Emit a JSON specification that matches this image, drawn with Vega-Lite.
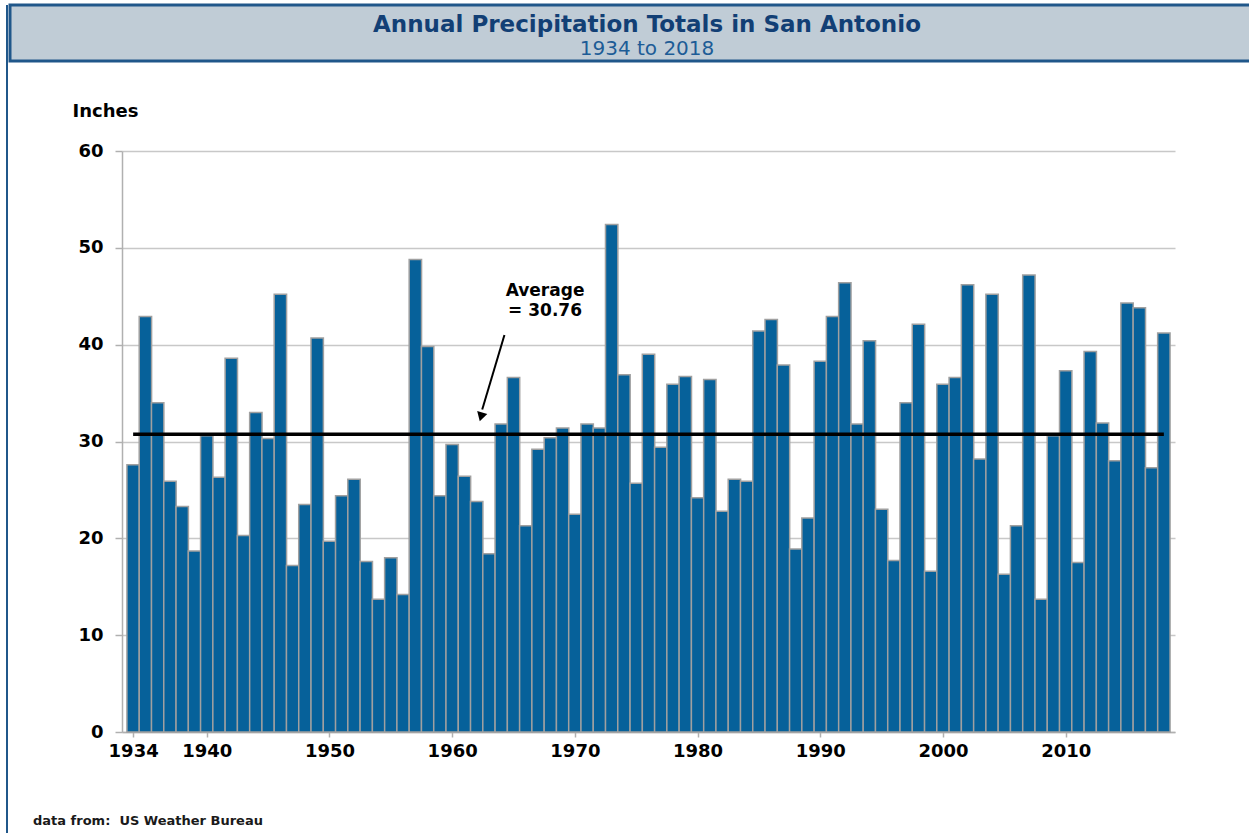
{
  "$schema": "https://vega.github.io/schema/vega-lite/v6.json",
  "background": "white",
  "padding": {"left": 6, "top": 3, "right": 0, "bottom": 0},
  "autosize": {"type": "pad"},
  "spacing": 0,
  "config": {"view": {"stroke": null}, "font": "DejaVu Sans"},
  "hconcat": [
    {
      "width": 2,
      "height": 830,
      "data": {"values": [{}]},
      "mark": {"type": "rect", "color": "#20578a"}
    },
    {
      "spacing": 39,
      "vconcat": [
        {
          "width": 1274,
          "height": 56,
          "view": {"fill": "#c0ccd6", "stroke": "#20578a", "strokeWidth": 3},
          "data": {"values": [{"title": "Annual Precipitation Totals in San Antonio", "subtitle": "1934 to 2018"}]},
          "layer": [
            {
              "mark": {"type": "text", "font": "DejaVu Sans", "fontSize": 23, "fontWeight": "bold", "color": "#123f75", "baseline": "alphabetic", "align": "center", "dy": -1},
              "encoding": {"text": {"field": "title"}}
            },
            {
              "mark": {"type": "text", "font": "DejaVu Sans", "fontSize": 20, "fontWeight": "normal", "color": "#1d5c96", "baseline": "alphabetic", "align": "center", "dy": 21.5},
              "encoding": {"text": {"field": "subtitle"}}
            }
          ]
        },
        {
          "spacing": 0,
          "hconcat": [
            {
              "width": 23,
              "height": 1,
              "data": {"values": [{}]},
              "mark": {"type": "rect", "opacity": 0}
            },
            {
              "width": 1053,
              "height": 581,
              "title": {"text": "data from:\u00a0\u00a0US Weather Bureau", "orient": "bottom", "anchor": "start", "frame": "group", "dx": -89, "offset": 55, "font": "DejaVu Sans", "fontSize": 13, "fontWeight": "bold", "color": "#1a1a1a"},
              "layer": [
                {
                  "data": {"values": [
                    {"year": 1934, "inches": 27.6}, {"year": 1935, "inches": 42.9}, {"year": 1936, "inches": 34.0}, {"year": 1937, "inches": 25.9},
                    {"year": 1938, "inches": 23.3}, {"year": 1939, "inches": 18.7}, {"year": 1940, "inches": 30.6}, {"year": 1941, "inches": 26.3},
                    {"year": 1942, "inches": 38.6}, {"year": 1943, "inches": 20.3}, {"year": 1944, "inches": 33.0}, {"year": 1945, "inches": 30.3},
                    {"year": 1946, "inches": 45.2}, {"year": 1947, "inches": 17.2}, {"year": 1948, "inches": 23.5}, {"year": 1949, "inches": 40.7},
                    {"year": 1950, "inches": 19.7}, {"year": 1951, "inches": 24.4}, {"year": 1952, "inches": 26.1}, {"year": 1953, "inches": 17.6},
                    {"year": 1954, "inches": 13.7}, {"year": 1955, "inches": 18.0}, {"year": 1956, "inches": 14.2}, {"year": 1957, "inches": 48.8},
                    {"year": 1958, "inches": 39.8}, {"year": 1959, "inches": 24.4}, {"year": 1960, "inches": 29.7}, {"year": 1961, "inches": 26.4},
                    {"year": 1962, "inches": 23.8}, {"year": 1963, "inches": 18.4}, {"year": 1964, "inches": 31.8}, {"year": 1965, "inches": 36.6},
                    {"year": 1966, "inches": 21.3}, {"year": 1967, "inches": 29.2}, {"year": 1968, "inches": 30.4}, {"year": 1969, "inches": 31.4},
                    {"year": 1970, "inches": 22.5}, {"year": 1971, "inches": 31.8}, {"year": 1972, "inches": 31.4}, {"year": 1973, "inches": 52.4},
                    {"year": 1974, "inches": 36.9}, {"year": 1975, "inches": 25.7}, {"year": 1976, "inches": 39.0}, {"year": 1977, "inches": 29.4},
                    {"year": 1978, "inches": 35.9}, {"year": 1979, "inches": 36.7}, {"year": 1980, "inches": 24.2}, {"year": 1981, "inches": 36.4},
                    {"year": 1982, "inches": 22.8}, {"year": 1983, "inches": 26.1}, {"year": 1984, "inches": 25.9}, {"year": 1985, "inches": 41.4},
                    {"year": 1986, "inches": 42.6}, {"year": 1987, "inches": 37.9}, {"year": 1988, "inches": 18.9}, {"year": 1989, "inches": 22.1},
                    {"year": 1990, "inches": 38.3}, {"year": 1991, "inches": 42.9}, {"year": 1992, "inches": 46.4}, {"year": 1993, "inches": 31.8},
                    {"year": 1994, "inches": 40.4}, {"year": 1995, "inches": 23.0}, {"year": 1996, "inches": 17.7}, {"year": 1997, "inches": 34.0},
                    {"year": 1998, "inches": 42.1}, {"year": 1999, "inches": 16.6}, {"year": 2000, "inches": 35.9}, {"year": 2001, "inches": 36.6},
                    {"year": 2002, "inches": 46.2}, {"year": 2003, "inches": 28.2}, {"year": 2004, "inches": 45.2}, {"year": 2005, "inches": 16.3},
                    {"year": 2006, "inches": 21.3}, {"year": 2007, "inches": 47.2}, {"year": 2008, "inches": 13.7}, {"year": 2009, "inches": 30.6},
                    {"year": 2010, "inches": 37.3}, {"year": 2011, "inches": 17.5}, {"year": 2012, "inches": 39.3}, {"year": 2013, "inches": 31.9},
                    {"year": 2014, "inches": 28.0}, {"year": 2015, "inches": 44.3}, {"year": 2016, "inches": 43.8}, {"year": 2017, "inches": 27.3},
                    {"year": 2018, "inches": 41.2}
                  ]},
                  "mark": {"type": "bar", "orient": "vertical", "width": 12.388, "color": "#06619a", "stroke": "#a0a0a0", "strokeWidth": 1.5},
                  "encoding": {
                    "x": {
                      "field": "year", "type": "quantitative", "title": null,
                      "scale": {"domain": [1933.5, 2018.5], "nice": false, "zero": false},
                      "axis": {
                        "values": [1934, 1940, 1950, 1960, 1970, 1980, 1990, 2000, 2010], "format": "d",
                        "grid": false, "labelFont": "DejaVu Sans", "labelFontSize": 18, "labelFontWeight": "bold", "labelColor": "black",
                        "labelPadding": 5, "tickSize": 5, "tickColor": "#b0b0b0", "tickWidth": 1.5, "domainColor": "#b0b0b0", "domainWidth": 1.5,
                        "labelOverlap": false, "labelFlush": false
                      }
                    },
                    "y": {
                      "field": "inches", "type": "quantitative", "title": "Inches",
                      "scale": {"domain": [0, 60], "nice": false},
                      "axis": {
                        "values": [0, 10, 20, 30, 40, 50, 60], "titleAngle": 0, "titleAlign": "left", "titleBaseline": "alphabetic",
                        "titleX": -50, "titleY": -35, "titleFont": "DejaVu Sans", "titleFontSize": 18, "titleFontWeight": "bold", "titleColor": "black",
                        "labelFont": "DejaVu Sans", "labelFontSize": 18, "labelFontWeight": "bold", "labelColor": "black", "labelPadding": 12,
                        "tickSize": 7, "tickColor": "#b0b0b0", "tickWidth": 1.5, "domainColor": "#b0b0b0", "domainWidth": 1.5,
                        "gridColor": "#c8c8c8", "gridWidth": 1.5
                      }
                    }
                  }
                },
                {
                  "data": {"values": [{"start": 1934, "end": 2018, "average": 30.76}]},
                  "mark": {"type": "rule", "color": "black", "strokeWidth": 3.5},
                  "encoding": {
                    "x": {"field": "start", "type": "quantitative", "title": null},
                    "x2": {"field": "end"},
                    "y": {"field": "average", "type": "quantitative", "title": "Inches"}
                  }
                },
                {
                  "data": {"values": [{"year": 1967.57, "inches": 45.0, "label": ["Average", "= 30.76"]}]},
                  "mark": {"type": "text", "font": "DejaVu Sans", "fontSize": 17, "fontWeight": "bold", "color": "black", "align": "center", "baseline": "alphabetic", "lineHeight": 20},
                  "encoding": {
                    "x": {"field": "year", "type": "quantitative", "title": null},
                    "y": {"field": "inches", "type": "quantitative", "title": "Inches"},
                    "text": {"field": "label"}
                  }
                },
                {
                  "data": {"values": [{"year": 1964.26, "inches": 41.0, "year_end": 1962.45, "inches_end": 33.3}]},
                  "mark": {"type": "rule", "color": "black", "strokeWidth": 2},
                  "encoding": {
                    "x": {"field": "year", "type": "quantitative", "title": null},
                    "x2": {"field": "year_end"},
                    "y": {"field": "inches", "type": "quantitative", "title": "Inches"},
                    "y2": {"field": "inches_end"}
                  }
                },
                {
                  "data": {"values": [{"year": 1962.35, "inches": 32.55}]},
                  "mark": {"type": "point", "shape": "triangle-down", "filled": true, "color": "black", "opacity": 1, "size": 110, "angle": 16},
                  "encoding": {
                    "x": {"field": "year", "type": "quantitative", "title": null},
                    "y": {"field": "inches", "type": "quantitative", "title": "Inches"}
                  }
                }
              ]
            }
          ]
        }
      ]
    }
  ]
}
